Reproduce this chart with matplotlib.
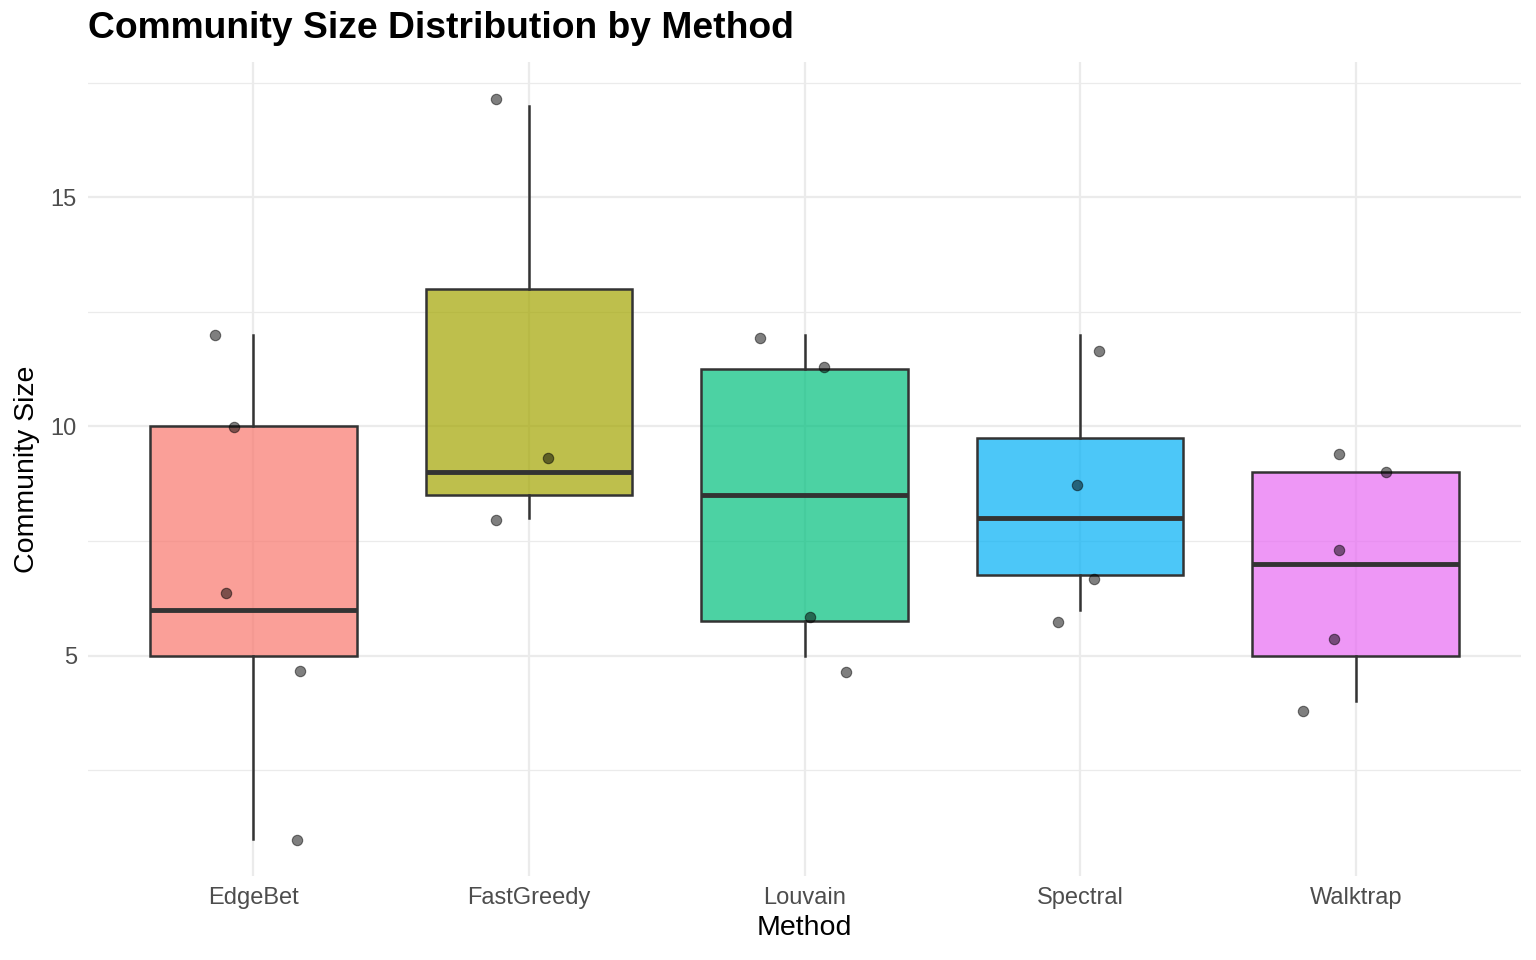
import matplotlib
matplotlib.use("Agg")
import matplotlib.pyplot as plt
import numpy as np

methods = ["EdgeBet", "FastGreedy", "Louvain", "Spectral", "Walktrap"]
colors = ["#F8766D", "#A3A500", "#00BF7D", "#00B0F6", "#E76BF3"]

# underlying community sizes per method
sizes = {
    "EdgeBet": [12, 10, 6, 5, 1],
    "FastGreedy": [17, 9, 8],
    "Louvain": [12, 11, 6, 5],
    "Spectral": [12, 9, 7, 6],
    "Walktrap": [9, 9, 7, 5, 4],
}

# jittered point positions as drawn (x offset from category centre, y value)
jit_x = {
    "EdgeBet": [-0.14, -0.07, -0.10, 0.17, 0.16],
    "FastGreedy": [-0.12, 0.07, -0.12],
    "Louvain": [-0.16, 0.07, 0.02, 0.15],
    "Spectral": [0.07, -0.01, 0.05, -0.08],
    "Walktrap": [-0.06, 0.11, -0.06, -0.08, -0.19],
}
jit_y = {
    "EdgeBet": [12.0, 9.98, 6.37, 4.67, 0.98],
    "FastGreedy": [17.14, 9.32, 7.95],
    "Louvain": [11.92, 11.29, 5.83, 4.65],
    "Spectral": [11.64, 8.71, 6.66, 5.74],
    "Walktrap": [9.39, 9.0, 7.31, 5.35, 3.8],
}

plt.rcParams["font.family"] = ["Liberation Sans", "DejaVu Sans"]
fig = plt.figure(figsize=(15.36, 9.6), dpi=100)
ax = fig.add_axes([88/1536, 1 - 876/960, (1521 - 88)/1536, (876 - 62)/960])

positions = np.arange(1, len(methods) + 1)
data = [sizes[m] for m in methods]
bp = ax.boxplot(data, positions=positions, widths=0.75, patch_artist=True,
                whis=1.5, showfliers=False, showcaps=False, zorder=2,
                boxprops=dict(edgecolor="#333333", linewidth=1.8),
                whiskerprops=dict(color="#333333", linewidth=1.8),
                medianprops=dict(color="#333333", linewidth=3.5, solid_capstyle="butt"))
for patch, c in zip(bp["boxes"], colors):
    patch.set_facecolor(matplotlib.colors.to_rgba(c, 0.7))

for i, m in enumerate(methods):
    xs = positions[i] + np.array(jit_x[m])
    ax.scatter(xs, jit_y[m], s=56, color="black", alpha=0.5, edgecolors="black",
               linewidths=0.8, zorder=3)

ax.set_xlim(0.4, 5.6)
ax.set_ylim(0.19, 17.95)
ax.set_xticks(positions)
ax.set_xticklabels(methods)
ax.set_yticks([5, 10, 15])
ax.set_yticks([2.5, 7.5, 12.5, 17.5], minor=True)
ax.grid(True, which="major", color="#EBEBEB", linewidth=1.6, zorder=0)
ax.grid(True, which="minor", axis="y", color="#EBEBEB", linewidth=0.9, zorder=0)
ax.set_axisbelow(True)
for s in ax.spines.values():
    s.set_visible(False)
ax.tick_params(which="both", length=0, labelsize=17, labelcolor="#4D4D4D", pad=8)

ax.set_xlabel("Method", fontsize=20.5, labelpad=4)
ax.set_ylabel("Community Size", fontsize=20.5, labelpad=8)
fig.text(88/1536, 1 - 28/960, "Community Size Distribution by Method",
         fontsize=26.8, fontweight="bold", va="center", ha="left")

fig.savefig("out.png", dpi=100)
